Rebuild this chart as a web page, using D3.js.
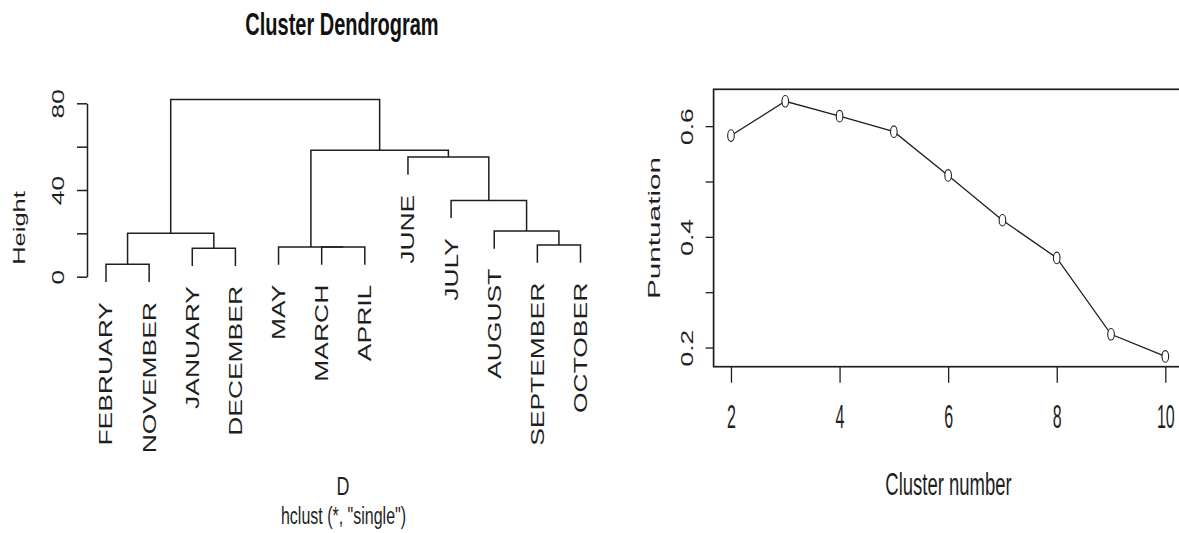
<!DOCTYPE html>
<html>
<head>
<meta charset="utf-8">
<script src="https://cdn.jsdelivr.net/npm/d3@7"></script>
<style>
	body { margin: 0; background: #fff; }
	svg { display: block; font-family: "Liberation Sans", Arial, sans-serif; }
</style>
</head>
<body>
<svg width="1179" height="533"></svg>
<script>
// Dendrogram data (leaf order as drawn, R-style merge table: negative = leaf, positive = earlier merge)
const leafLabels = ["FEBRUARY", "NOVEMBER", "JANUARY", "DECEMBER", "MAY", "MARCH",
	"APRIL", "JUNE", "JULY", "AUGUST", "SEPTEMBER", "OCTOBER"];
const merges = [[-1, -2], [-3, -4], [-6, -7], [-5, 3], [-11, -12], [1, 2],
	[-10, 5], [-9, 7], [-8, 8], [4, 9], [6, 10]];
const mergeHeights = [5.7, 13.1, 13.7, 13.7, 14.6, 20.0, 21.1, 35.2, 55.2, 58.3, 81.7];
const heightTicks = [0, 20, 40, 60, 80];
const heightLabels = [0, 40, 80];

// Score by number of clusters
const clusterNumbers = [2, 3, 4, 5, 6, 7, 8, 9, 10];
const scores = [0.583, 0.645, 0.618, 0.590, 0.511, 0.430, 0.362, 0.224, 0.184];
const clusterTicks = [2, 4, 6, 8, 10];
const scoreTicks = [0.2, 0.3, 0.4, 0.5, 0.6];
const scoreLabels = [0.2, 0.4, 0.6];

// the picture is stretched vertically, text is stretched the same way
const SL = 1.55, SR = 1.8;
const ink = "#1e1e1e";

const svg = d3.select("svg");

// ---------- left panel: dendrogram ----------
const left = svg.append("g");

const x = d3.scaleLinear().domain([1, leafLabels.length]).range([106, 580.5]);
const y = d3.scaleLinear().domain([0, 80]).range([276.7, 103.3]);
const hang = 0.1 * d3.max(mergeHeights);

// position of every node
const nodeX = [], nodeY = [];
function childPos(c, h) {
	if (c < 0) return [x(-c), y(h - hang)];
	return [nodeX[c - 1], nodeY[c - 1]];
}

const leafBottom = {};
merges.forEach((m, i) => {
	const h = mergeHeights[i];
	const a = childPos(m[0], h), b = childPos(m[1], h);
	m.forEach((c) => { if (c < 0) leafBottom[-c] = y(h - hang); });
	nodeX[i] = (a[0] + b[0]) / 2;
	nodeY[i] = y(h);
	left.append("path")
		.attr("d", `M${a[0]},${a[1]}V${y(h)}H${b[0]}V${b[1]}`)
		.attr("fill", "none")
		.attr("stroke", ink)
		.attr("stroke-width", 1.5);
});

// leaf labels
left.selectAll(".leaf")
	.data(leafLabels)
	.join("text")
	.attr("class", "leaf")
	.attr("text-anchor", "end")
	.attr("dy", "0.36em")
	.attr("font-size", 18)
	.attr("fill", ink)
	.attr("transform", (d, i) => `translate(${x(i + 1)},${leafBottom[i + 1] + 20}) scale(1,1.47) rotate(-90)`)
	.text((d) => d);

// height axis
const yAxis = left.append("g")
	.attr("transform", "translate(87,0)")
	.call(d3.axisLeft(y)
		.tickValues(heightTicks)
		.tickSize(10)
		.tickSizeOuter(0)
		.tickFormat((d) => (heightLabels.includes(d) ? d : "")));
yAxis.selectAll("path, line").attr("stroke", ink).attr("stroke-width", 1.5);
yAxis.selectAll("text")
	.attr("x", 0).attr("dy", 0)
	.attr("text-anchor", "middle")
	.attr("font-size", 17)
	.attr("font-family", "Liberation Sans, Arial, sans-serif")
	.attr("fill", ink)
	.attr("transform", `translate(-23,0) scale(1,${SL}) rotate(-90)`);

left.append("text")
	.attr("text-anchor", "middle")
	.attr("font-size", 17)
	.attr("fill", ink)
	.attr("transform", `translate(25,228) scale(1,1.5) rotate(-90)`)
	.text("Height");

left.append("text")
	.attr("text-anchor", "middle")
	.attr("font-size", 20)
	.attr("font-weight", "bold")
	.attr("fill", "#111")
	.attr("transform", `translate(342,35) scale(1,1.6)`)
	.text("Cluster Dendrogram");

left.append("text")
	.attr("text-anchor", "middle")
	.attr("font-size", 18)
	.attr("fill", ink)
	.attr("transform", `translate(343,495) scale(1,1.45)`)
	.text("D");

left.append("text")
	.attr("text-anchor", "middle")
	.attr("font-size", 16)
	.attr("fill", ink)
	.attr("transform", `translate(343.5,524) scale(1,${SL})`)
	.text('hclust (*, "single")');

// ---------- right panel: score vs cluster number ----------
const right = svg.append("g");

const xr = d3.scaleLinear().domain([1.68, 10.32]).range([713.6, 1182.7]);
const yr = d3.scaleLinear().domain([0.1654, 0.6666]).range([366.7, 89.3]);

right.append("rect")
	.attr("x", xr(1.68))
	.attr("y", yr(0.6666))
	.attr("width", xr(10.32) - xr(1.68))
	.attr("height", yr(0.1654) - yr(0.6666))
	.attr("fill", "none")
	.attr("stroke", ink)
	.attr("stroke-width", 1.7);

const line = d3.line()
	.x((d, i) => xr(clusterNumbers[i]))
	.y((d) => yr(d));

right.append("path")
	.datum(scores)
	.attr("d", line)
	.attr("fill", "none")
	.attr("stroke", ink)
	.attr("stroke-width", 1.3);

right.selectAll(".pt")
	.data(scores)
	.join("ellipse")
	.attr("class", "pt")
	.attr("cx", (d, i) => xr(clusterNumbers[i]))
	.attr("cy", (d) => yr(d))
	.attr("rx", 3.3)
	.attr("ry", 5.8)
	.attr("fill", "#fff")
	.attr("stroke", ink)
	.attr("stroke-width", 1.1);

const xAxisR = right.append("g")
	.attr("transform", `translate(0,${yr(0.1654)})`)
	.call(d3.axisBottom(xr).tickValues(clusterTicks).tickSize(16).tickSizeOuter(0));
xAxisR.select(".domain").remove();
xAxisR.selectAll("line").attr("stroke", ink).attr("stroke-width", 1.3);
xAxisR.selectAll("text")
	.attr("y", 0).attr("dy", 0)
	.attr("font-size", 16)
	.attr("font-family", "Liberation Sans, Arial, sans-serif")
	.attr("fill", ink)
	.attr("transform", `translate(0,61.5) scale(1,2.05)`);

const yAxisR = right.append("g")
	.attr("transform", `translate(${xr(1.68)},0)`)
	.call(d3.axisLeft(yr)
		.tickValues(scoreTicks)
		.tickSize(8)
		.tickSizeOuter(0)
		.tickFormat((d) => (scoreLabels.includes(d) ? d3.format(".1f")(d) : "")));
yAxisR.select(".domain").remove();
yAxisR.selectAll("line").attr("stroke", ink).attr("stroke-width", 1.3);
yAxisR.selectAll("text")
	.attr("x", 0).attr("dy", 0)
	.attr("text-anchor", "middle")
	.attr("font-size", 16)
	.attr("font-family", "Liberation Sans, Arial, sans-serif")
	.attr("fill", ink)
	.attr("transform", `translate(-20.6,0) scale(1,1.65) rotate(-90)`);

right.append("text")
	.attr("text-anchor", "middle")
	.attr("font-size", 17)
	.attr("fill", ink)
	.attr("transform", `translate(660,228) scale(1,1.75) rotate(-90)`)
	.text("Puntuation");

right.append("text")
	.attr("text-anchor", "middle")
	.attr("font-size", 18.5)
	.attr("fill", ink)
	.attr("transform", `translate(948.5,495) scale(1,1.7)`)
	.text("Cluster number");
</script>
</body>
</html>
